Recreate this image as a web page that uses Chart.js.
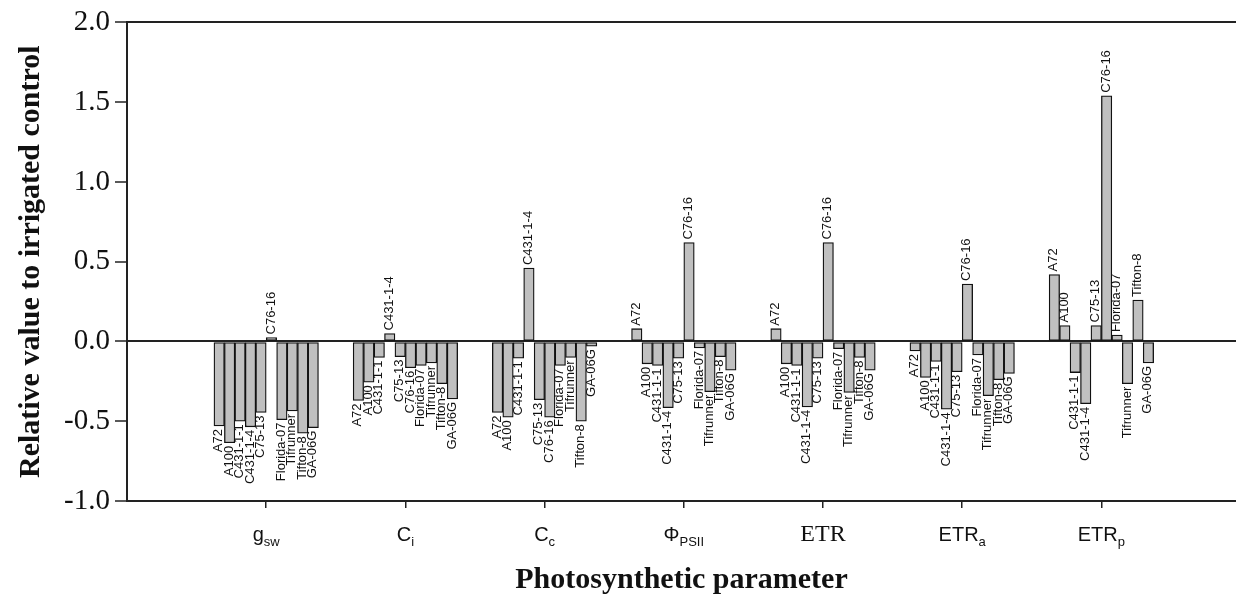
<!DOCTYPE html>
<html>
<head>
<meta charset="utf-8">
<script src="https://cdn.jsdelivr.net/npm/chart.js@4"></script>
<style>
  html, body { margin: 0; padding: 0; background: #fff; overflow: hidden; }
  canvas { display: block; }
</style>
</head>
<body>
<canvas id="myChart" width="1236" height="601"></canvas>
<script>
// parameters on the x axis (main text + subscript)
const tickMain = ['g', 'C', 'C', 'Φ', 'ETR', 'ETR', 'ETR'];
const tickSub = ['sw', 'i', 'c', 'PSII', '', 'a', 'p'];
const tickSerif = [false, false, false, false, true, false, false];

const genotypes = ['A72', 'A100', 'C431-1-1', 'C431-1-4', 'C75-13', 'C76-16',
  'Florida-07', 'Tifrunner', 'Tifton-8', 'GA-06G'];

// values, one array per parameter (genotype order above)
const gsw = [-0.53, -0.635, -0.50, -0.535, -0.445, 0.025, -0.49, -0.435, -0.575, -0.54];
const ci = [-0.37, -0.255, -0.10, 0.05, -0.095, -0.165, -0.15, -0.135, -0.265, -0.36];
const cc = [-0.445, -0.475, -0.105, 0.46, -0.365, -0.475, -0.15, -0.10, -0.50, -0.03];
const phiPSII = [0.08, -0.14, -0.15, -0.415, -0.105, 0.62, -0.04, -0.315, -0.095, -0.18];
const etr = [0.08, -0.14, -0.15, -0.41, -0.105, 0.62, -0.045, -0.32, -0.10, -0.18];
const etrA = [-0.06, -0.225, -0.125, -0.425, -0.19, 0.36, -0.085, -0.34, -0.24, -0.20];
const etrP = [0.42, 0.10, -0.195, -0.39, 0.10, 1.54, 0.04, -0.265, 0.26, -0.135];

const series = [gsw, ci, cc, phiPSII, etr, etrA, etrP];

const yTicks = [-1.0, -0.5, 0.0, 0.5, 1.0, 1.5, 2.0];

const datasets = genotypes.map((g, j) => ({
  label: g,
  data: series.map((s, i) => ({ x: i + 1, y: s[j] })),
  backgroundColor: '#c0c0c0',
  borderColor: '#111',
  borderWidth: 1.3,
  borderSkipped: false,
  barThickness: 10.45
}));

// rotated genotype names at the end of each bar
const barLabels = {
  id: 'barLabels',
  afterDatasetsDraw(chart) {
    const c = chart.ctx;
    c.save();
    c.font = '13px "Liberation Sans", Arial, sans-serif';
    c.fillStyle = '#111';
    c.textBaseline = 'middle';
    chart.data.datasets.forEach((ds, j) => {
      const meta = chart.getDatasetMeta(j);
      meta.data.forEach((bar, i) => {
        const v = ds.data[i].y;
        c.save();
        if (v < 0) {
          c.translate(bar.x - 0.5, bar.y + 3);
          c.rotate(-Math.PI / 2);
          c.textAlign = 'right';
        } else {
          c.translate(bar.x - 0.5, bar.y - 3);
          c.rotate(-Math.PI / 2);
          c.textAlign = 'left';
        }
        c.fillText(ds.label, 0, 0);
        c.restore();
      });
    });
    c.restore();
  }
};

// x tick labels with subscripts
const paramLabels = {
  id: 'paramLabels',
  afterDraw(chart) {
    const c = chart.ctx;
    const xs = chart.scales.x;
    const baseY = 541;
    c.save();
    c.fillStyle = '#111';
    c.textBaseline = 'alphabetic';
    c.textAlign = 'left';
    tickMain.forEach((m, i) => {
      const mainFont = tickSerif[i] ? '24px "Liberation Serif", "Times New Roman", serif'
                                    : '20px "Liberation Sans", Arial, sans-serif';
      const subFont = '13px "Liberation Sans", Arial, sans-serif';
      c.font = mainFont;
      const w1 = c.measureText(m).width;
      c.font = subFont;
      const w2 = tickSub[i] ? c.measureText(tickSub[i]).width : 0;
      const x = xs.getPixelForValue(i + 1) - (w1 + w2) / 2;
      c.font = mainFont;
      c.fillText(m, x, baseY);
      if (tickSub[i]) {
        c.font = subFont;
        c.fillText(tickSub[i], x + w1, baseY + 5);
      }
    });
    c.restore();
  }
};

const ctx = document.getElementById('myChart').getContext('2d');
new Chart(ctx, {
  type: 'bar',
  data: { datasets: datasets },
  options: {
    responsive: false,
    animation: false,
    devicePixelRatio: 1,
    layout: { padding: { left: 0, right: 0, top: 20, bottom: 0 } },
    plugins: {
      legend: { display: false },
      tooltip: { enabled: false }
    },
    scales: {
      x: {
        type: 'linear',
        min: 0,
        max: 7.967,
        offset: false,
        afterBuildTicks: (scale) => {
          scale.ticks = tickMain.map((m, i) => ({ value: i + 1 }));
        },
        afterFit: (scale) => { scale.height = 100; },
        ticks: { callback: () => '', padding: 0 },
        grid: {
          offset: false,
          drawOnChartArea: false,
          color: '#222',
          lineWidth: 1.5,
          tickLength: 7
        },
        border: { display: true, color: '#222', width: 2 },
        title: {
          display: true,
          text: 'Photosynthetic parameter',
          color: '#111',
          font: { family: '"Liberation Serif", "Times New Roman", serif', size: 30, weight: 'bold' },
          padding: { bottom: 3 }
        }
      },
      y: {
        min: -1.0,
        max: 2.0,
        afterBuildTicks: (scale) => {
          scale.ticks = yTicks.map(v => ({ value: v }));
        },
        afterFit: (scale) => { scale.width = 127; },
        ticks: {
          callback: (v) => Number(v).toFixed(1),
          color: '#111',
          padding: 5,
          font: { family: '"Liberation Serif", "Times New Roman", serif', size: 29 }
        },
        grid: {
          color: (c) => (c.tick && (c.tick.value === 0 || c.tick.value === 2)) ? '#222' : 'rgba(0,0,0,0)',
          tickColor: '#222',
          lineWidth: 2,
          tickWidth: 1.5,
          tickLength: 12
        },
        border: { display: true, color: '#222', width: 2 },
        title: {
          display: true,
          text: 'Relative value to irrigated control',
          color: '#111',
          font: { family: '"Liberation Serif", "Times New Roman", serif', size: 30, weight: 'bold' },
          padding: { top: 13 }
        }
      }
    }
  },
  plugins: [barLabels, paramLabels]
});
</script>
</body>
</html>
